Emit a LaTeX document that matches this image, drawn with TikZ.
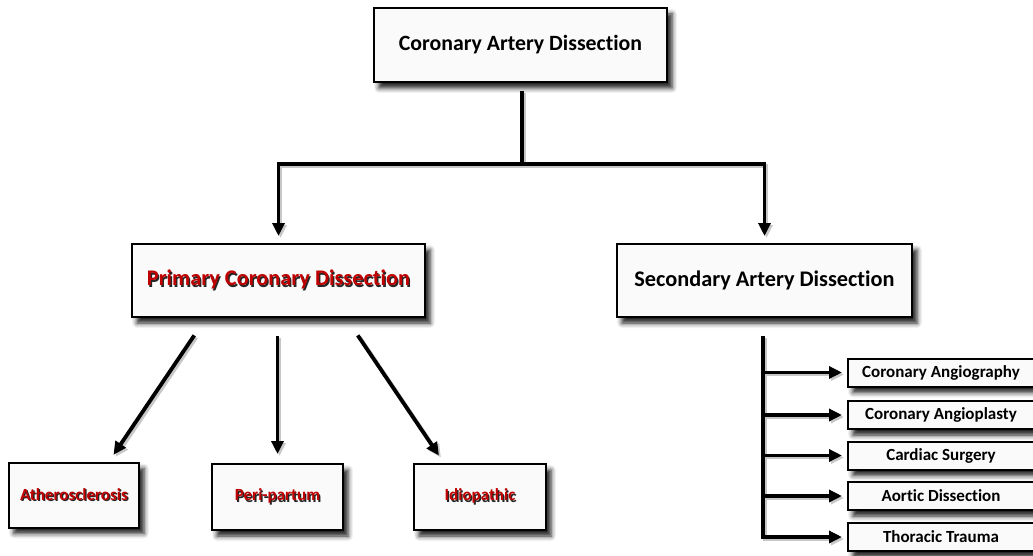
\documentclass[tikz,border=0pt]{standalone}
\usepackage{fontspec}
\setmainfont{Carlito}[Ligatures=NoCommon]
\usetikzlibrary{arrows.meta,calc,shadows.blur}
\definecolor{cred}{HTML}{C00000}
\definecolor{boxfill}{HTML}{FAFAFA}
\newcommand\redtxt[1]{\makebox[0pt][l]{\hspace{1.3pt}\raisebox{-1.3pt}{\textcolor{black!85}{#1}}}\textcolor{cred}{#1}}
\tikzset{
  box/.style={draw=black, line width=2pt, fill=boxfill, inner sep=0pt, align=center,
    font=\bfseries,
    blur shadow={shadow xshift=5pt, shadow yshift=-6pt, shadow blur radius=5pt, shadow opacity=90}},
  big/.style={box, font=\fontsize{22.3}{26}\selectfont\bfseries},
  small/.style={box, font=\fontsize{17}{20}\selectfont\bfseries, minimum width=186pt, minimum height=28pt},
  red/.style={box, font=\fontsize{17}{20}\selectfont\bfseries},
  conn/.style={line width=3.8pt, black,
    preaction={draw=black!22, line width=3.8pt, transform canvas={xshift=2pt,yshift=-2pt}}},
  arr/.style={conn, -{Triangle[width=12pt,length=13pt]}},
}
\begin{document}
\begin{tikzpicture}[x=1pt,y=-1pt]
\useasboundingbox (0,0) rectangle (1033,556);
\clip (0,0) rectangle (1033,556);
% main boxes
\node[big, font=\fontsize{21.8}{26}\selectfont\bfseries, minimum width=293pt, minimum height=74pt] (top) at (520.5,45) {Coronary Artery Dissection};
\node[big, minimum width=293pt, minimum height=73pt] (prim) at (278.5,280.5) {\redtxt{Primary Coronary Dissection}};
\node[big, minimum width=295pt, minimum height=73pt] (sec) at (764.5,280.5) {Secondary Artery Dissection};
% bottom boxes
\node[red, minimum width=130pt, minimum height=65pt] (ath) at (74,495) {\redtxt{Atherosclerosis}};
\node[red, minimum width=131pt, minimum height=66pt] (peri) at (277.5,497) {\redtxt{Peri-partum}};
\node[red, minimum width=132pt, minimum height=66pt] (idio) at (480,497) {\redtxt{Idiopathic}};
% right boxes
\node[small] (s1) at (941,372.5) {Coronary Angiography};
\node[small] (s2) at (941,415) {Coronary Angioplasty};
\node[small] (s3) at (941,455.5) {Cardiac Surgery};
\node[small] (s4) at (941,496) {Aortic Dissection};
\node[small] (s5) at (941,537) {Thoracic Trauma};
% top connectors
\coordinate (j) at ($(top.south)+(1.5,81)$);
\coordinate (jl) at (j -| prim.north);
\coordinate (jr) at (j -| sec.north);
\draw[conn] ($(top.south)+(1.5,8)$) -- (j);
\draw[conn] ($(jl)+(-1.9,0)$) -- ($(jr)+(1.9,0)$);
\draw[arr, shorten >=7pt] (jl) -- (prim.north);
\draw[arr, shorten >=7pt] (jr) -- (sec.north);
% primary children
\coordinate (pl) at ($(prim.south west)+(75,0)$);
\coordinate (al) at ($(ath.north west)+(101,0)$);
\draw[arr, shorten <=21pt, shorten >=8pt] (pl) -- (al);
\draw[arr, shorten <=18pt, shorten >=9pt] (prim.south -| peri.north) -- (peri.north);
\coordinate (pr) at ($(prim.south west)+(215,0)$);
\coordinate (ir) at ($(idio.north west)+(31,0)$);
\draw[arr, shorten <=21pt, shorten >=9pt] (pr) -- (ir);
% secondary children
\coordinate (v) at ($(sec.south)+(-1.5,18)$);
\coordinate (vb) at (v |- s5.west);
\draw[conn] (v) -- ($(vb)+(0,1.9)$);
\foreach \n in {s1,s2,s3,s4,s5}{
  \draw[arr, shorten >=5pt] (v |- \n.west) -- (\n.west);
}
\end{tikzpicture}
\end{document}
